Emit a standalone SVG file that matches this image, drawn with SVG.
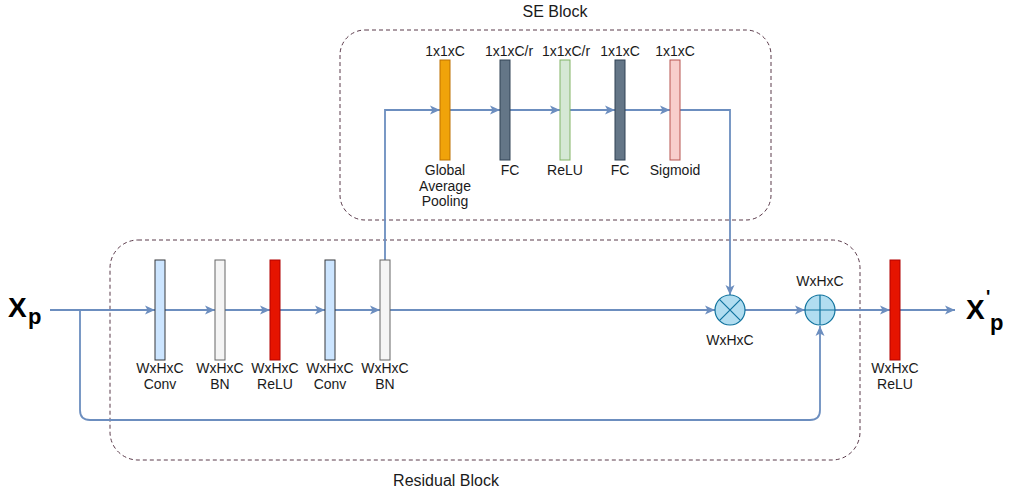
<svg xmlns="http://www.w3.org/2000/svg" width="1016" height="491" viewBox="0 0 1016 491">
<defs>
<marker id="arr" markerUnits="userSpaceOnUse" markerWidth="12" markerHeight="10" refX="10" refY="5" orient="auto">
<path d="M0,0.5 L10,5 L0,9.5 L2.5,5 z" fill="#6C8EBF"/>
</marker>
<style>
.lbl{font-family:"Liberation Sans",Arial,sans-serif;font-size:14px;fill:#1a1a1a;text-anchor:middle}
.ttl{font-family:"Liberation Sans",Arial,sans-serif;font-size:16px;fill:#1a1a1a;text-anchor:middle}
.big{font-family:"Liberation Sans",Arial,sans-serif;font-weight:bold;fill:#000}
.edge{fill:none;stroke:#6C8EBF;stroke-width:1.8}
.arr{marker-end:url(#arr)}
.box{fill:none;stroke:#5a3a4a;stroke-width:1;stroke-dasharray:4 3}
.conv{fill:#CCE5FF;stroke:#36393D}
.bn{fill:#F5F5F5;stroke:#666666}
.relu{fill:#E51400;stroke:#B20000}
.gap{fill:#F0A30A;stroke:#BD7000}
.fc{fill:#647687;stroke:#314354}
.srelu{fill:#D5E8D4;stroke:#82B366}
.sig{fill:#F8CECC;stroke:#B85450}
.op{fill:#B1DDF0;stroke:#10739E;stroke-width:1.2}
</style>
</defs>
<rect width="1016" height="491" fill="#ffffff"/>

<g id="se-block">
<rect class="box" x="340" y="30" width="431" height="190" rx="25" ry="25"/>
<text class="ttl" x="555" y="17">SE Block</text>
</g>
<g id="residual-block">
<rect class="box" x="110" y="240" width="750" height="220" rx="28" ry="28"/>
<text class="ttl" x="446" y="486">Residual Block</text>
</g>

<g id="connectors">
<path class="edge arr" d="M50,310 H155"/>
<path class="edge arr" d="M165,310 H215"/>
<path class="edge arr" d="M225,310 H270"/>
<path class="edge arr" d="M280,310 H325"/>
<path class="edge arr" d="M335,310 H380"/>
<path class="edge arr" d="M390,310 H715"/>
<path class="edge arr" d="M745,310 H805"/>
<path class="edge arr" d="M835,310 H890"/>
<path class="edge arr" d="M900,310 H955"/>
<path class="edge arr" d="M80,310 V410 Q80,420 90,420 H810 Q820,420 820,410 V326"/>
<path class="edge arr" d="M385,260 V110 H440"/>
<path class="edge arr" d="M450,110 H500"/>
<path class="edge arr" d="M510,110 H560"/>
<path class="edge arr" d="M570,110 H615"/>
<path class="edge arr" d="M625,110 H670"/>
<path class="edge arr" d="M680,110 H730 V295"/>
</g>

<g id="xp">
<text class="big" x="8" y="317" font-size="28">X</text>
<text class="big" x="28" y="324" font-size="22">p</text>
</g>

<g id="conv1">
<rect class="conv" x="155" y="260" width="10" height="100"/>
<text class="lbl" x="160" y="373">WxHxC</text>
<text class="lbl" x="160" y="389">Conv</text>
</g>
<g id="bn1">
<rect class="bn" x="215" y="260" width="10" height="100"/>
<text class="lbl" x="220" y="373">WxHxC</text>
<text class="lbl" x="220" y="389">BN</text>
</g>
<g id="relu1">
<rect class="relu" x="270" y="260" width="10" height="100"/>
<text class="lbl" x="275" y="373">WxHxC</text>
<text class="lbl" x="275" y="389">ReLU</text>
</g>
<g id="conv2">
<rect class="conv" x="325" y="260" width="10" height="100"/>
<text class="lbl" x="330" y="373">WxHxC</text>
<text class="lbl" x="330" y="389">Conv</text>
</g>
<g id="bn2">
<rect class="bn" x="380" y="260" width="10" height="100"/>
<text class="lbl" x="385" y="373">WxHxC</text>
<text class="lbl" x="385" y="389">BN</text>
</g>

<g id="gap">
<rect class="gap" x="440" y="60" width="10" height="100"/>
<text class="lbl" x="445" y="56">1x1xC</text>
<text class="lbl" x="445" y="175">Global</text>
<text class="lbl" x="445" y="191">Average</text>
<text class="lbl" x="445" y="206">Pooling</text>
</g>
<g id="fc1">
<rect class="fc" x="500" y="60" width="10" height="100"/>
<text class="lbl" x="509" y="56">1x1xC/r</text>
<text class="lbl" x="510" y="175">FC</text>
</g>
<g id="se-relu">
<rect class="srelu" x="560" y="60" width="10" height="100"/>
<text class="lbl" x="566" y="56">1x1xC/r</text>
<text class="lbl" x="565" y="175">ReLU</text>
</g>
<g id="fc2">
<rect class="fc" x="615" y="60" width="10" height="100"/>
<text class="lbl" x="620" y="56">1x1xC</text>
<text class="lbl" x="620" y="175">FC</text>
</g>
<g id="sigmoid">
<rect class="sig" x="670" y="60" width="10" height="100"/>
<text class="lbl" x="675" y="56">1x1xC</text>
<text class="lbl" x="675" y="175">Sigmoid</text>
</g>

<g id="multiply">
<circle class="op" cx="730" cy="310" r="15"/>
<path d="M719.4,299.4 L740.6,320.6 M740.6,299.4 L719.4,320.6" stroke="#10739E" stroke-width="1.2"/>
<text class="lbl" x="730" y="345">WxHxC</text>
</g>
<g id="add">
<circle class="op" cx="820" cy="310" r="15"/>
<path d="M805,310 H835 M820,295 V325" stroke="#10739E" stroke-width="1.2"/>
<text class="lbl" x="820" y="286">WxHxC</text>
</g>
<g id="relu-out">
<rect class="relu" x="890" y="260" width="10" height="100"/>
<text class="lbl" x="895" y="373">WxHxC</text>
<text class="lbl" x="895" y="389">ReLU</text>
</g>
<g id="xp-out">
<text class="big" x="966" y="319" font-size="28">X</text>
<text class="big" x="986" y="303" font-size="18">'</text>
<text class="big" x="990" y="330" font-size="22">p</text>
</g>
</svg>
